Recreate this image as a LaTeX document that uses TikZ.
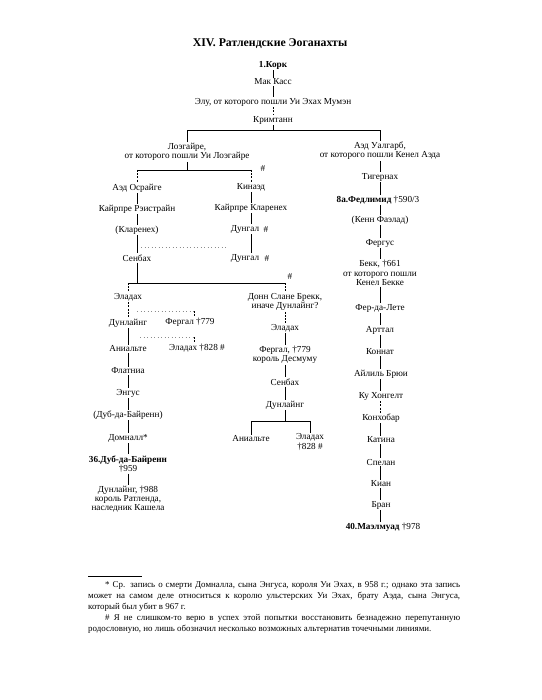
\documentclass[tikz,border=0pt]{standalone}
\usepackage{fontspec}
\setmainfont{Liberation Serif}
\begin{document}
\begin{tikzpicture}[x=1pt,y=-1pt,
  nm/.style={inner sep=1pt, align=center, font=\fontsize{9.2}{9.2}\selectfont},
  ttl/.style={inner sep=0pt, font=\fontsize{11.8}{14}\selectfont\bfseries},
  cn/.style={line width=0.55pt},
  dsh/.style={line width=0.55pt, dash pattern=on 2pt off 1.2pt},
  dtt/.style={line width=0.5pt, black!45, dash pattern=on 1pt off 2.5pt},
]
\fill[white] (0,0) rectangle (541,700);
\useasboundingbox (0,0) rectangle (541,700);

\node[ttl] (title) at (270,44) {XIV. Ратлендские Эоганахты};

% top chain
\node[nm] (kork) at (273,65) {\textbf{1.Корк}};
\node[nm] (mak) at (273,82) {Мак Касс};
\node[nm] (elu) at (273,102) {Элу, от которого пошли Уи Эхах Мумэн};
\node[nm] (krim) at (273,120) {Кримтанн};
\coordinate (h1) at (273,130);

% second level
\node[nm] (lo) at (187,152) {Лоэгайре,\\от которого пошли Уи Лоэгайре};
\node[nm] (au) at (380,151) {Аэд Уалгарб,\\от которого пошли Кенел Аэда};
\coordinate (h2) at (187,170);
\node[nm] (hs1) at (263,168) {\#};

% left branch
\node[nm] (aed) at (137,188) {Аэд Осрайге};
\node[nm] (kair) at (137,209) {Кайрпре Рэистрайн};
\node[nm] (klar) at (137,230) {(Кларенех)};
\node[nm] (senb) at (137,258) {Сенбах};
\node[nm] (kin) at (251,187) {Кинаэд};
\node[nm] (kk) at (251,208) {Кайрпре Кларенех};
\node[nm] (dun1) at (245,229) {Дунгал};
\node[nm] (hs2) at (266,229) {\#};
\node[nm] (dun2) at (245,258) {Дунгал};
\node[nm] (hs3) at (267,258) {\#};
\coordinate (vk) at (251,0);
\coordinate (d1a) at (141,247);
\coordinate (d1b) at (227,247);

\coordinate (h3) at (128,283);
\node[nm] (hs4) at (290,276) {\#};

% left column
\node[nm] (ela1) at (128,297) {Эладах};
\node[nm] (dunl1) at (128,323) {Дунлайнг};
\node[nm] (ani1) at (128,349) {Аниальте};
\node[nm] (flat) at (128,371) {Флатниа};
\node[nm] (eng) at (128,393) {Энгус};
\node[nm] (dub1) at (128,415) {(Дуб-да-Байренн)};
\node[nm] (dom) at (128,438) {Домналл*};
\node[nm] (dub2) at (128,464) {\textbf{36.Дуб-да-Байренн}\\†959};
\node[nm] (dunl2) at (128,499) {Дунлайнг, †988\\король Ратленда,\\наследник Кашела};

% middle short column
\node[nm] (ferg1) at (190,322) {Фергал †779};
\node[nm] (ela2) at (197,348) {Эладах †828 \#};
\coordinate (m1) at (194,311);
\coordinate (m1a) at (137,311);
\coordinate (m2) at (194,337);
\coordinate (m2a) at (140,337);

% middle-right column
\node[nm] (donn) at (285,302) {Донн Слане Брекк,\\иначе Дунлайнг?};
\node[nm] (ela3) at (285,328) {Эладах};
\node[nm] (ferg2) at (285,355) {Фергал, †779\\король Десмуму};
\node[nm] (senb2) at (285,382) {Сенбах};
\node[nm] (dunl3) at (285,405) {Дунлайнг};
\coordinate (h4) at (285,421);
\node[nm] (ani2) at (251,439) {Аниальте};
\node[nm] (ela4) at (310,442) {Эладах\\†828 \#};

% right column
\node[nm] (tig) at (380,177) {Тигернах};
\node[nm] (fed) at (378,200) {\textbf{8а.Федлимид} †590/3};
\node[nm] (kenn) at (380,220) {(Кенн Фаэлад)};
\node[nm] (ferg3) at (380,243) {Фергус};
\node[nm] (bekk) at (380,273) {Бекк, †661\\от которого пошли\\Кенел Бекке};
\node[nm] (fer) at (380,308) {Фер-да-Лете};
\node[nm] (art) at (380,330) {Арттал};
\node[nm] (kon) at (380,352) {Коннат};
\node[nm] (ail) at (381,374) {Айлиль Брюи};
\node[nm] (ku) at (381,396) {Ку Хонгелт};
\node[nm] (konh) at (381,418) {Конхобар};
\node[nm] (kat) at (381,440) {Катина};
\node[nm] (spel) at (381,462) {Спелан};
\node[nm] (kian) at (381,484) {Киан};
\node[nm] (bran) at (381,505) {Бран};
\node[nm] (mael) at (383,527) {\textbf{40.Маэлмуад} †978};

% connectors: top
\draw[cn] (kork) -- (mak);
\draw[cn] (mak) -- (elu);
\draw[dsh] (elu) -- (krim);
\draw[cn] (krim) -- (h1);
\draw[cn] (lo) -- (lo|-h1) -- (au|-h1) -- (au);

% second level split
\draw[cn] (lo) -- (h2);
\draw[cn] (aed|-h2) -- (kin|-h2);
\draw[dsh] (aed|-h2) -- (aed);
\draw[dsh] (kin|-h2) -- (kin);
\draw[cn] (aed) -- (kair);
\draw[cn] (kair) -- (klar);
\draw[cn] (klar) -- (senb);
\draw[cn] (kin) -- (kk);
\draw[cn] (kk.south-|vk) -- (vk|-dun1.north);
\draw[cn] (vk|-dun1.south) -- (vk|-dun2.north);
\draw[dtt] (d1a) -- (d1b);

% third split
\draw[cn] (senb) -- (senb|-h3);
\draw[cn] (h3) -- (donn|-h3);
\draw[dsh] (h3) -- (ela1);
\draw[dsh] (donn|-h3) -- (donn);

% left column
\draw[dsh] (ela1) -- (dunl1);
\draw[cn] (dunl1) -- (ani1);
\draw[cn] (ani1) -- (flat);
\draw[cn] (flat) -- (eng);
\draw[cn] (eng) -- (dub1);
\draw[cn] (dub1) -- (dom);
\draw[cn] (dom) -- (dub2);
\draw[cn] (dub2) -- (dunl2);

% middle dotted alternatives
\draw[dtt] (m1a) -- (m1);
\draw[dsh] (m1) -- (m1|-ferg1.north);
\draw[dtt] (m2a) -- (m2);
\draw[dsh] (m2) -- (m2|-ela2.north);

% middle-right column
\draw[dsh] (donn) -- (ela3);
\draw[cn] (ela3) -- (ferg2);
\draw[cn] (ferg2) -- (senb2);
\draw[cn] (senb2) -- (dunl3);
\draw[cn] (dunl3) -- (h4);
\draw[cn] (ani2|-h4) -- (ela4|-h4);
\draw[cn] (ani2|-h4) -- (ani2);
\draw[cn] (ela4|-h4) -- (ela4);

% right column
\draw[cn] (au) -- (tig);
\draw[cn] (tig) -- (tig|-fed.north);
\draw[cn] (tig|-fed.south) -- (kenn);
\draw[cn] (kenn) -- (ferg3);
\draw[cn] (ferg3) -- (bekk);
\draw[cn] (bekk) -- (fer);
\draw[cn] (fer) -- (art);
\draw[cn] (art) -- (kon);
\draw[cn] (kon) -- (kon|-ail.north);
\draw[cn] (kon|-ail.south) -- (kon|-ku.north);
\draw[dsh] (kon|-ku.south) -- (kon|-konh.north);
\draw[cn] (kon|-konh.south) -- (kon|-kat.north);
\draw[cn] (kon|-kat.south) -- (kon|-spel.north);
\draw[cn] (kon|-spel.south) -- (kon|-kian.north);
\draw[cn] (kon|-kian.south) -- (kon|-bran.north);
\draw[cn] (kon|-bran.south) -- (kon|-mael.north);

% footnotes
\coordinate (fr1) at (88,576);
\coordinate (fr2) at (142,576);
\draw[line width=0.5pt] (fr1) -- (fr2);
\node[anchor=north west, inner sep=0pt] (fn) at (88,581) {\parbox{372pt}{\fontsize{8.9}{11}\selectfont\setlength{\parindent}{17pt}%
* Ср. запись о смерти Домналла, сына Энгуса, короля Уи Эхах, в 958 г.; однако эта запись\linebreak
может на самом деле относиться к королю ульстерских Уи Эхах, брату Аэда, сына Энгуса,\linebreak
который был убит в 967 г.\par
\# Я не слишком-то верю в успех этой попытки восстановить безнадежно перепутанную\linebreak
родословную, но лишь обозначил несколько возможных альтернатив точечными линиями.}};
\end{tikzpicture}
\end{document}
